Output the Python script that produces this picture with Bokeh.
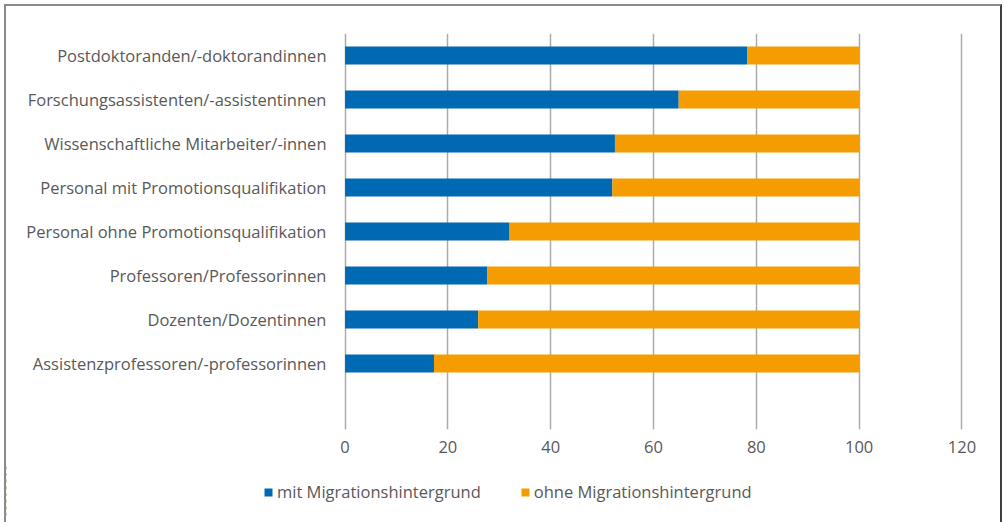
from bokeh.plotting import figure
from bokeh.models import ColumnDataSource, FactorRange, Range1d, Legend, LegendItem, FixedTicker
from bokeh.embed import file_html
from bokeh.resources import INLINE

categories = [
    "Postdoktoranden/-doktorandinnen",
    "Forschungsassistenten/-assistentinnen",
    "Wissenschaftliche Mitarbeiter/-innen",
    "Personal mit Promotionsqualifikation",
    "Personal ohne Promotionsqualifikation",
    "Professoren/Professorinnen",
    "Dozenten/Dozentinnen",
    "Assistenzprofessoren/-professorinnen",
]
mit = [78.2, 64.9, 52.5, 52.0, 32.0, 27.7, 25.9, 17.3]
ohne = [21.8, 35.1, 47.5, 48.0, 68.0, 72.3, 74.1, 82.7]
series_names = ["mit Migrationshintergrund", "ohne Migrationshintergrund"]
x_ticks = [0, 20, 40, 60, 80, 100, 120]

FONT = "Open Sans"
TXT = "#595959"
FS = "16.5px"
COLORS = ["#0069b4", "#f49c00"]
BORDER = "2px solid #8a8a8a"
BORDER_R = "2px solid #404040"

factors = [" "] + categories[::-1]
source = ColumnDataSource(dict(cat=categories, mit=mit, ohne=ohne))

p = figure(width=998, height=460, y_range=FactorRange(*factors, range_padding=0),
           x_range=Range1d(-0.3, 120.3), output_backend="svg", toolbar_location=None,
           min_border_left=337, min_border_right=41, min_border_top=27, min_border_bottom=37)
p.outline_line_color = None
p.styles = {"margin-left": "4px", "margin-top": "4px", "border-top": BORDER,
            "border-left": BORDER, "border-right": BORDER_R}

renderers = p.hbar_stack(["mit", "ohne"], y="cat", height=0.41, source=source,
                         color=COLORS, line_color=None)

p.xgrid.ticker = FixedTicker(ticks=x_ticks)
p.xgrid.grid_line_color = "#ababab"
p.xgrid.grid_line_width = 1.5
p.ygrid.grid_line_color = None

p.xaxis.ticker = FixedTicker(ticks=x_ticks)
p.xaxis.axis_line_color = None
p.xaxis.major_tick_line_color = None
p.xaxis.minor_tick_line_color = None
p.xaxis.major_tick_out = 0
p.xaxis.major_label_standoff = 11
p.xaxis.major_label_text_font = FONT
p.xaxis.major_label_text_font_size = FS
p.xaxis.major_label_text_color = TXT

p.yaxis.axis_line_color = None
p.yaxis.major_tick_line_color = None
p.yaxis.major_tick_out = 0
p.yaxis.major_label_standoff = 17
p.yaxis.major_label_text_font = FONT
p.yaxis.major_label_text_font_size = FS
p.yaxis.major_label_text_color = TXT

# legend strip below the chart (same series, bars kept out of its view)
lf = figure(width=998, height=60, y_range=FactorRange(*factors, range_padding=0),
            x_range=Range1d(200, 300), output_backend="svg", toolbar_location=None,
            min_border=0, x_axis_location=None, y_axis_location=None)
lf.outline_line_color = None
lf.grid.grid_line_color = None
lf.styles = {"margin-left": "4px", "border-left": BORDER, "border-right": BORDER_R,
             "border-bottom": BORDER}
lrend = lf.hbar_stack(["mit", "ohne"], y="cat", height=0.41, source=source,
                      color=COLORS, line_color=None)

legend = Legend(items=[LegendItem(label=series_names[0], renderers=[lrend[0]]),
                       LegendItem(label=series_names[1], renderers=[lrend[1]])],
                orientation="horizontal", location=(257, 21),
                glyph_width=10, glyph_height=10, label_standoff=4, spacing=39,
                padding=0, margin=0, border_line_color=None, background_fill_alpha=0,
                label_text_font=FONT, label_text_font_size=FS, label_text_color=TXT)
lf.add_layout(legend, "center")

open("out.html", "w").write(file_html([p, lf], INLINE))
